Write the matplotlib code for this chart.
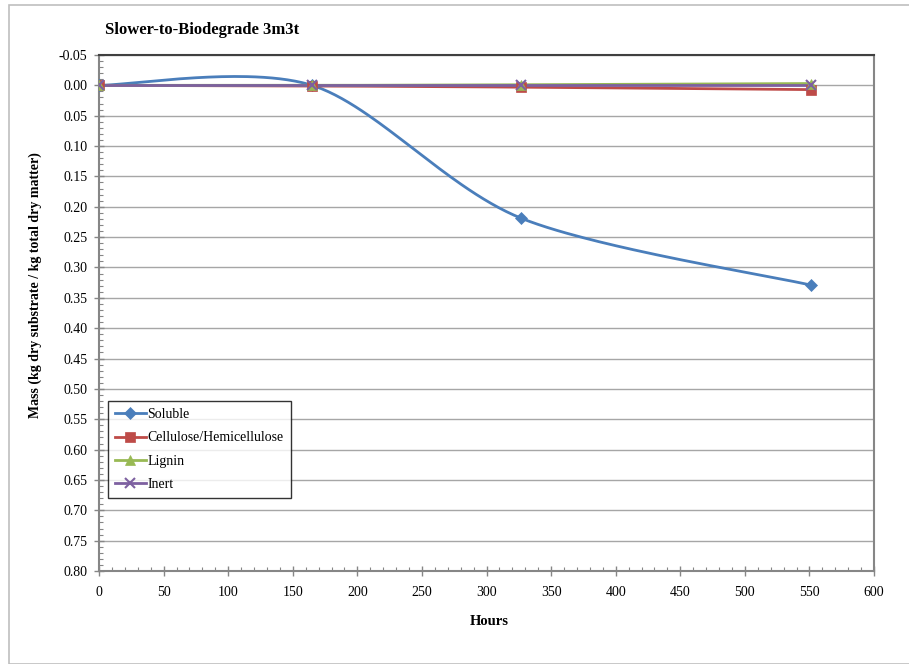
import numpy as np
import matplotlib
matplotlib.use("Agg")
import matplotlib.pyplot as plt
from matplotlib.lines import Line2D
from matplotlib.patches import Rectangle
from matplotlib.ticker import MultipleLocator, FormatStrFormatter

# Sampling times (hours) and mass fractions for each component
hours = [0, 165, 327, 551]
soluble = [0.0, 0.0, 0.219, 0.329]
cellulose = [0.0, 0.001, 0.003, 0.007]
lignin = [0.0, 0.0, -0.001, -0.003]
inert = [0.0, 0.0, 0.0, 0.0]

series_names = ["Soluble", "Cellulose/Hemicellulose", "Lignin", "Inert"]
series_values = [soluble, cellulose, lignin, inert]
series_colors = ["#4A7EBB", "#BE4B48", "#98B954", "#7D60A0"]
series_markers = ["D", "s", "^", "x"]
series_msizes = [6, 7, 7, 7]

title = "Slower-to-Biodegrade 3m3t"
xlabel = "Hours"
ylabel = "Mass (kg dry substrate / kg total dry matter)"


def smooth(xs, ys, n=60, f=0.15):
    """Bezier smoothing through the points (cardinal spline style)."""
    p = np.column_stack([xs, ys]).astype(float)
    ext = np.vstack([p[0], p, p[-1]])
    out = []
    t = np.linspace(0, 1, n)[:, None]
    for i in range(len(p) - 1):
        p0, p1 = ext[i + 1], ext[i + 2]
        c1 = p0 + (ext[i + 2] - ext[i]) * f
        c2 = p1 - (ext[i + 3] - ext[i + 1]) * f
        seg = ((1 - t) ** 3) * p0 + 3 * ((1 - t) ** 2) * t * c1 + 3 * (1 - t) * t ** 2 * c2 + t ** 3 * p1
        out.append(seg if i == 0 else seg[1:])
    s = np.vstack(out)
    return s[:, 0], s[:, 1]


plt.rcParams["font.family"] = ["Liberation Serif", "DejaVu Serif"]

W, H = 909, 664
fig = plt.figure(figsize=(W / 100, H / 100), dpi=100)

# outer chart frame
fig.patches.append(Rectangle((9 / W, 0), 1.0, 1 - 5 / H, transform=fig.transFigure,
                             fill=False, edgecolor="#BFBFBF", linewidth=1.2))

ax = fig.add_axes([99 / W, 1 - 571 / H, 775 / W, 516 / H])

for name, vals, col, mk, ms in zip(series_names, series_values, series_colors,
                                   series_markers, series_msizes):
    sx, sy = smooth(hours, vals)
    ax.plot(sx, sy, color=col, linewidth=2.0, solid_capstyle="round", zorder=3)
    mew = 1.5 if mk == "x" else 0.5
    ax.plot(hours, vals, linestyle="none", marker=mk, markersize=ms, color=col,
            markeredgecolor=col, markeredgewidth=mew, zorder=4)

ax.set_xlim(0, 600)
ax.set_ylim(0.80, -0.05)
ax.xaxis.set_major_locator(MultipleLocator(50))
ax.xaxis.set_minor_locator(MultipleLocator(10))
ax.yaxis.set_major_locator(MultipleLocator(0.05))
ax.yaxis.set_minor_locator(MultipleLocator(0.01))
ax.yaxis.set_major_formatter(FormatStrFormatter("%.2f"))

ax.grid(axis="y", which="major", color="#A6A6A6", linewidth=1.0, zorder=1)
ax.set_axisbelow(True)

for side in ("left", "bottom", "right"):
    ax.spines[side].set_color("#868686")
    ax.spines[side].set_linewidth(1.5)
ax.spines["top"].set_color("#404040")
ax.spines["top"].set_linewidth(1.5)

ax.tick_params(axis="both", which="major", direction="inout", length=7, width=1,
               color="#868686", labelsize=10, pad=5)
ax.tick_params(axis="x", which="major", pad=7)
ax.tick_params(axis="both", which="minor", direction="in", length=3, width=0.8,
               color="#868686")

ax.set_xlabel(xlabel, fontsize=10.5, fontweight="bold")
ax.xaxis.set_label_coords((489 - 99) / 775, -(615 - 571) / 516)
ax.set_ylabel(ylabel, fontsize=10, fontweight="bold")
ax.yaxis.set_label_coords((42 - 99) / 775, (571 - 285) / 516)
fig.text(105 / W, 1 - 30 / H, title, fontsize=12, fontweight="bold",
         ha="left", va="center")

handles = [Line2D([0], [0], color=c, linewidth=2.0, marker=m, markersize=s,
                  markeredgewidth=(1.5 if m == "x" else 0.5), markeredgecolor=c)
           for c, m, s in zip(series_colors, series_markers, series_msizes)]
leg = ax.legend(handles, series_names, loc="upper left",
                bbox_to_anchor=(9 / 775, 1 - (401 - 55) / 516),
                fontsize=10, frameon=True, fancybox=False, borderpad=0.5,
                handlelength=2.2, handletextpad=0.15, labelspacing=0.75,
                borderaxespad=0)
leg.get_frame().set_edgecolor("#000000")
leg.get_frame().set_linewidth(1.0)

fig.savefig("out.png", dpi=100)
